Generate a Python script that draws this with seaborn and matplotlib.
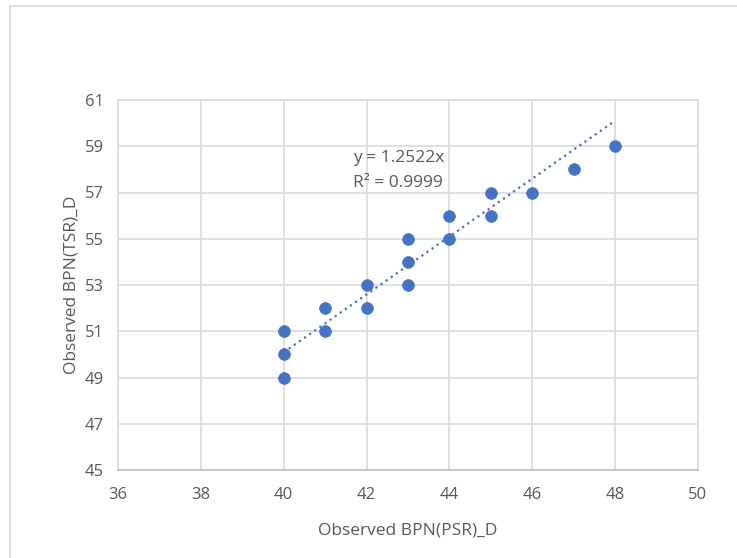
import matplotlib
matplotlib.use("Agg")
import matplotlib.pyplot as plt
import seaborn as sns
import numpy as np
import pandas as pd
from matplotlib import font_manager

# Data
psr = [40, 40, 40, 41, 41, 42, 42, 43, 43, 43, 44, 44, 45, 45, 46, 47, 48]
tsr = [51, 50, 49, 52, 51, 53, 52, 55, 54, 53, 56, 55, 57, 56, 57, 58, 59]
slope = 1.2522
r2 = 0.9999
x_ticks = [36, 38, 40, 42, 44, 46, 48, 50]
y_ticks = [45, 47, 49, 51, 53, 55, 57, 59, 61]

sns.set_theme(style="white")
avail = {f.name for f in font_manager.fontManager.ttflist}
fam = [f for f in ["Liberation Sans Narrow", "Open Sans", "DejaVu Sans"] if f in avail]
plt.rcParams["font.family"] = fam

text_col = "#595959"
blue = "#4472C4"
grid_col = "#D9D9D9"

fig = plt.figure(figsize=(7.37, 5.58), dpi=100)
fig.patch.set_facecolor("white")
# outer chart border (left and top visible)
fig.add_artist(plt.Line2D([10/737, 10/737], [0, 1 - 6/558], transform=fig.transFigure,
                          color="#D9D9D9", lw=1.2))
fig.add_artist(plt.Line2D([10/737, 1], [1 - 6/558, 1 - 6/558], transform=fig.transFigure,
                          color="#D9D9D9", lw=1.2))

ax = fig.add_axes([118/737, 88/558, 580/737, 370/558])

df = pd.DataFrame({"psr": psr, "tsr": tsr})
xs = np.array([min(psr), max(psr)], dtype=float)
trend = pd.DataFrame({"x": xs, "y": slope * xs})
sns.lineplot(data=trend, x="x", y="y", ax=ax, color=blue, lw=1.6,
             linestyle=(0, (1, 1.8)), zorder=2)
sns.scatterplot(data=df, x="psr", y="tsr", ax=ax, color=blue, s=72,
                edgecolor=blue, linewidth=0.5, zorder=3)

ax.set_xlim(36, 50)
ax.set_ylim(45, 61)
ax.set_xticks(x_ticks)
ax.set_yticks(y_ticks)
ax.grid(True, color=grid_col, lw=1.2)
ax.set_axisbelow(True)
for s in ax.spines.values():
    s.set_color(grid_col)
    s.set_linewidth(1.2)
ax.spines["bottom"].set_color("#BFBFBF")
ax.tick_params(axis="both", colors=text_col, labelsize=12, length=0, pad=10)
ax.tick_params(axis="x", pad=12)

ax.set_xlabel("Observed BPN(PSR)_D", color=text_col, fontsize=12.5, labelpad=14)
ax.set_ylabel("Observed BPN(TSR)_D", color=text_col, fontsize=12.5, labelpad=4)

ax.text(41.68, 58.49, f"y = {slope}x", color=text_col, fontsize=12.5,
        ha="left", va="center")
ax.text(41.68, 57.41, f"R² = {r2}", color=text_col, fontsize=12.5,
        ha="left", va="center")

fig.savefig("out.png", dpi=100, facecolor="white")
